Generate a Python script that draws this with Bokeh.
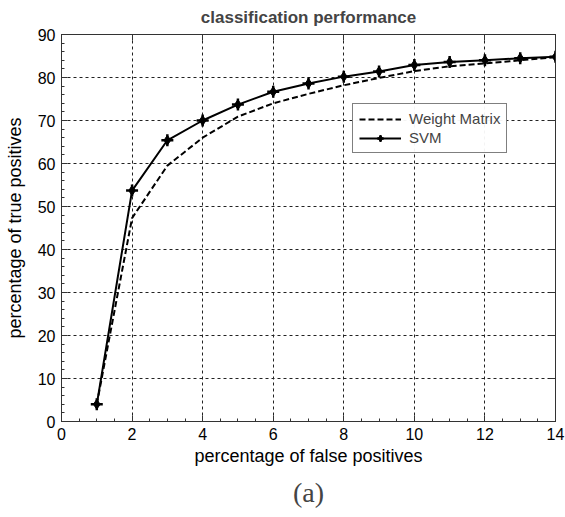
from bokeh.plotting import figure
from bokeh.models import (Range1d, LinearAxis, Title, Legend, LegendItem,
                          SingleIntervalTicker, CustomJSTickFormatter)
from bokeh.embed import file_html
from bokeh.resources import INLINE

fp = [1, 2, 3, 4, 5, 6, 7, 8, 9, 10, 11, 12, 13, 14]
weight_matrix = [4, 47.3, 59.5, 66.0, 70.9, 74.0, 76.2, 78.2, 79.9, 81.5, 82.6, 83.3, 84.0, 84.7]
svm = [4, 53.7, 65.4, 70.0, 73.7, 76.7, 78.6, 80.2, 81.4, 82.9, 83.6, 84.0, 84.5, 84.8]
x_ticks = [0, 2, 4, 6, 8, 10, 12, 14]
y_ticks = [0, 10, 20, 30, 40, 50, 60, 70, 80, 90]

FONT = "Liberation Sans"

p = figure(width=565, height=517, output_backend="svg", toolbar_location=None,
           x_range=Range1d(0, 14), y_range=Range1d(0, 90),
           min_border_left=61, min_border_right=10, min_border_top=34, min_border_bottom=96)

p.title.text = "classification performance"
p.title.align = "center"
p.title.vertical_align = "top"
p.title.text_font = FONT
p.title.text_font_size = "17px"
p.title.text_font_style = "bold"
p.title.offset = 0
p.title.standoff = 12

p.outline_line_color = "black"
p.outline_line_width = 1
p.background_fill_color = "white"

def style_axis(ax, labels=True):
    ax.major_tick_in = 6
    ax.major_tick_out = 0
    ax.minor_tick_in = 3
    ax.minor_tick_out = 0
    ax.axis_line_color = "#333333"
    ax.major_tick_line_color = "#333333"
    ax.minor_tick_line_color = "#333333"
    if labels:
        ax.major_label_text_font = FONT
        ax.major_label_text_font_size = "16px"
        ax.major_label_text_color = "black"
        ax.axis_label_text_font = FONT
        ax.axis_label_text_font_size = "18px"
        ax.axis_label_text_font_style = "normal"
        ax.axis_label_text_color = "black"
    else:
        ax.formatter = CustomJSTickFormatter(code="return ''")
        ax.major_label_text_font_size = "1px"
        ax.major_label_standoff = 0

xt = SingleIntervalTicker(interval=2, num_minor_ticks=4)
yt = SingleIntervalTicker(interval=10, num_minor_ticks=5)
p.xaxis.ticker = xt
p.yaxis.ticker = yt
p.xaxis.axis_label = "percentage of false positives"
p.yaxis.axis_label = "percentage of true positives"
style_axis(p.xaxis[0])
style_axis(p.yaxis[0])
p.xaxis.major_label_standoff = 6
p.yaxis.major_label_standoff = 6
p.xaxis.axis_label_standoff = 3
p.yaxis.axis_label_standoff = 10

top = LinearAxis(ticker=SingleIntervalTicker(interval=2, num_minor_ticks=0))
right = LinearAxis(ticker=SingleIntervalTicker(interval=10, num_minor_ticks=0))
style_axis(top, labels=False)
style_axis(right, labels=False)
p.add_layout(top, "above")
p.add_layout(right, "right")

p.grid.grid_line_color = "#222222"
p.grid.grid_line_dash = "3 3"
p.grid.grid_line_width = 1
p.xgrid.ticker = xt
p.ygrid.ticker = yt

wm = p.line(fp, weight_matrix, line_color="black", line_width=2, line_dash="6 3")
sl = p.line(fp, svm, line_color="black", line_width=2)
sd = p.scatter(fp, svm, marker="diamond", size=10, fill_color="black", line_color="black")
sc = p.scatter(fp, svm, marker="cross", size=12, line_color="black", line_width=2.5)

legend = Legend(items=[LegendItem(label="Weight Matrix", renderers=[wm]),
                       LegendItem(label="SVM", renderers=[sl, sd, sc])],
                location=(291, 268))
legend.label_text_font = FONT
legend.label_text_font_size = "15px"
legend.border_line_color = "black"
legend.border_line_width = 1.5
legend.glyph_width = 42
legend.glyph_height = 16
legend.label_height = 16
legend.spacing = 2
legend.padding = 6
legend.margin = 0
legend.label_standoff = 8
p.add_layout(legend, "center")

cap = Title(text="(a)", align="center", text_font="Liberation Serif",
            text_font_size="28px", text_font_style="normal", standoff=12)
p.add_layout(cap, "below")

open("out.html", "w").write(file_html(p, INLINE))
